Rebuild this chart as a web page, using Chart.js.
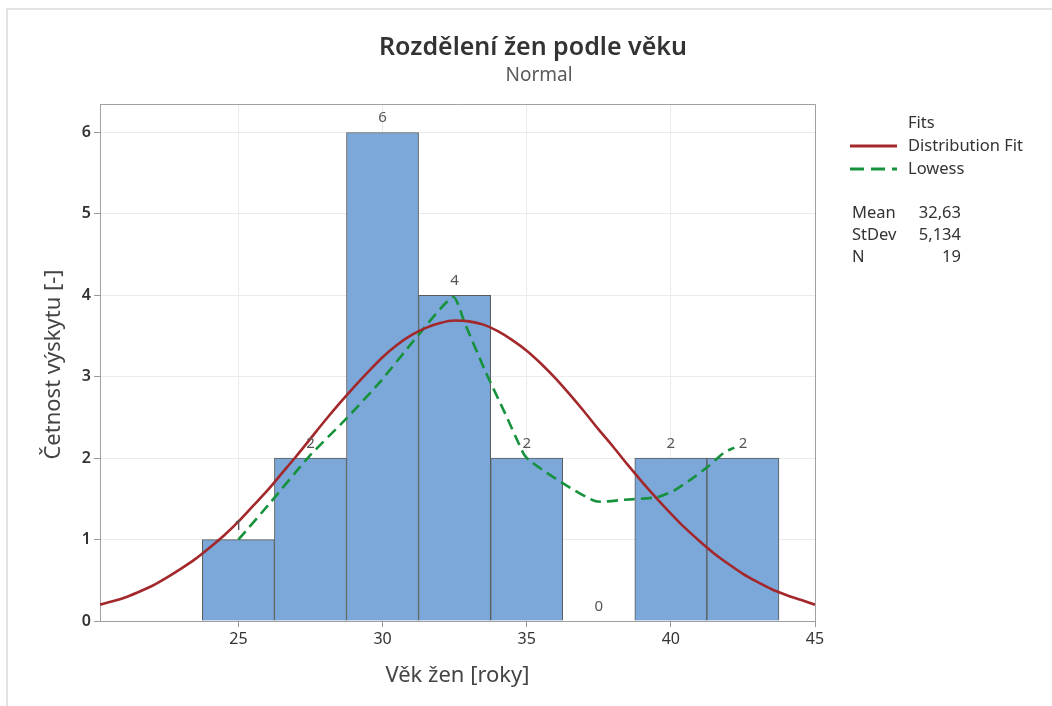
<!DOCTYPE html>
<html>
<head>
<meta charset="utf-8">
<script src="https://cdn.jsdelivr.net/npm/chart.js@4/dist/chart.umd.min.js"></script>
<style>
html,body{margin:0;padding:0;background:#fff;}
#wrap{position:relative;width:1052px;height:706px;}
canvas{display:block;}
</style>
</head>
<body>
<div id="wrap"><canvas id="c" width="1052" height="706"></canvas></div>
<script>
// ---- data ----
const binCenters = [25, 27.5, 30, 32.5, 35, 37.5, 40, 42.5];
const counts = [1, 2, 6, 4, 2, 0, 2, 2];

const fitX = [20.2, 20.5, 21, 21.5, 22, 22.5, 23, 23.5, 24, 24.5, 25, 25.5, 26, 26.5, 27, 27.5, 28, 28.5, 29, 29.5, 30, 30.5, 31, 31.5, 32, 32.5, 33, 33.5, 34, 34.5, 35, 35.5, 36, 36.5, 37, 37.5, 38, 38.5, 39, 39.5, 40, 40.5, 41, 41.5, 42, 42.5, 43, 43.5, 44, 44.5, 45];
const fitY = [0.20, 0.23, 0.28, 0.35, 0.43, 0.53, 0.64, 0.76, 0.90, 1.05, 1.22, 1.41, 1.60, 1.81, 2.02, 2.24, 2.46, 2.67, 2.87, 3.06, 3.24, 3.39, 3.51, 3.60, 3.66, 3.69, 3.68, 3.64, 3.56, 3.45, 3.32, 3.16, 2.98, 2.78, 2.57, 2.35, 2.14, 1.92, 1.71, 1.51, 1.32, 1.14, 0.98, 0.83, 0.70, 0.58, 0.48, 0.39, 0.32, 0.26, 0.20];

const lowessX = [25, 26.1, 27.45, 28.7, 29.9, 31.1, 32.45, 32.85, 33.55, 34.25, 34.9, 35.1, 35.7, 36.4, 37.4, 38.4, 39.5, 40.1, 40.7, 41.3, 41.85, 42.2];
const lowessY = [1.0, 1.45, 2.02, 2.47, 2.93, 3.45, 3.98, 3.66, 3.08, 2.55, 2.05, 1.97, 1.82, 1.66, 1.47, 1.49, 1.52, 1.60, 1.74, 1.90, 2.07, 2.13];

const xTicks = [25, 30, 35, 40, 45];
const yTicks = [0, 1, 2, 3, 4, 5, 6];

const titleText = 'Rozdělení žen podle věku';
const subtitleText = 'Normal';
const xTitle = 'Věk žen [roky]';
const yTitle = 'Četnost výskytu [-]';
const legendHeader = 'Fits';
const seriesNames = ['Distribution Fit', 'Lowess'];
const statLabels = ['Mean', 'StDev', 'N'];
const statValues = ['32,63', '5,134', '19'];

// ---- styles ----
const FONT = "'Noto Sans', 'Open Sans', sans-serif";
const RED = '#A3282B';
const GREEN = '#17923C';
const BAR = '#7BA7D9';

const decor = {
  id: 'decor',
  beforeDraw(chart) {
    const ctx = chart.ctx;
    ctx.save();
    ctx.fillStyle = '#e3e3e3';
    ctx.fillRect(6, 8, 2, 706);
    ctx.fillRect(6, 8, 1052, 2);
    ctx.restore();
  },
  afterDraw(chart) {
    const ctx = chart.ctx;
    const a = chart.chartArea;
    ctx.save();
    // frame top/right
    ctx.strokeStyle = '#a0a0a0';
    ctx.lineWidth = 1;
    ctx.beginPath();
    ctx.moveTo(a.left, a.top + 0.5);
    ctx.lineTo(a.right + 0.5, a.top + 0.5);
    ctx.lineTo(a.right + 0.5, a.bottom);
    ctx.stroke();

    // title
    ctx.fillStyle = '#333';
    ctx.textAlign = 'center';
    ctx.textBaseline = 'alphabetic';
    ctx.font = "600 25px " + FONT;
    ctx.fillText(titleText, 533, 55);
    ctx.fillStyle = '#5a5a5a';
    ctx.font = "19px " + FONT;
    ctx.fillText(subtitleText, 539, 81);

    // axis titles
    ctx.fillStyle = '#444';
    ctx.font = "22px " + FONT;
    ctx.textBaseline = 'middle';
    ctx.fillText(xTitle, (a.left + a.right) / 2, 676);
    ctx.save();
    ctx.translate(54, (a.top + a.bottom) / 2 + 2);
    ctx.rotate(-Math.PI / 2);
    ctx.fillText(yTitle, 0, 0);
    ctx.restore();

    // bar labels
    const meta = chart.getDatasetMeta(2);
    ctx.fillStyle = '#555';
    ctx.font = "15px " + FONT;
    ctx.textBaseline = 'alphabetic';
    meta.data.forEach((el, i) => {
      ctx.fillText(String(counts[i]), el.x, el.y - 10);
    });

    // legend
    ctx.textAlign = 'left';
    ctx.textBaseline = 'middle';
    ctx.fillStyle = '#333';
    ctx.font = "16.5px " + FONT;
    ctx.fillText(legendHeader, 908, 123);
    ctx.fillText(seriesNames[0], 908, 146);
    ctx.fillText(seriesNames[1], 908, 169);
    ctx.lineWidth = 3;
    ctx.strokeStyle = RED;
    ctx.beginPath(); ctx.moveTo(850, 146); ctx.lineTo(897, 146); ctx.stroke();
    ctx.strokeStyle = GREEN;
    ctx.setLineDash([14, 7]);
    ctx.beginPath(); ctx.moveTo(850, 169); ctx.lineTo(897, 169); ctx.stroke();
    ctx.setLineDash([]);

    // stats
    statLabels.forEach((s, i) => {
      ctx.textAlign = 'left';
      ctx.fillText(s, 852, 213 + i * 22);
      ctx.textAlign = 'right';
      ctx.fillText(statValues[i], 961, 213 + i * 22);
    });
    ctx.restore();
  }
};

new Chart(document.getElementById('c'), {
  type: 'bar',
  data: {
    datasets: [
      {
        type: 'line',
        label: seriesNames[0],
        data: fitX.map((x, i) => ({ x: x, y: fitY[i] })),
        borderColor: RED,
        borderWidth: 2.6,
        pointRadius: 0,
        cubicInterpolationMode: 'monotone',
        order: 0
      },
      {
        type: 'line',
        label: seriesNames[1],
        data: lowessX.map((x, i) => ({ x: x, y: lowessY[i] })),
        borderColor: GREEN,
        borderWidth: 2.6,
        borderDash: [11, 6],
        pointRadius: 0,
        tension: 0.2,
        order: 1
      },
      {
        type: 'bar',
        label: 'Histogram',
        data: binCenters.map((x, i) => ({ x: x, y: counts[i] })),
        backgroundColor: BAR,
        borderColor: '#5b5b5b',
        borderWidth: 1,
        borderSkipped: 'bottom',
        barPercentage: 1,
        categoryPercentage: 1,
        order: 2
      }
    ]
  },
  options: {
    responsive: false,
    animation: false,
    devicePixelRatio: 1,
    layout: { padding: { left: 0, top: 104, right: 237, bottom: 0 } },
    plugins: { legend: { display: false }, tooltip: { enabled: false }, title: { display: false } },
    scales: {
      x: {
        type: 'linear',
        offset: false,
        min: 20.2,
        max: 45,
        afterBuildTicks: s => { s.ticks = xTicks.map(v => ({ value: v })); },
        afterFit: s => { s.height = 85; },
        grid: { offset: false, color: '#ebebeb', tickColor: '#999', tickLength: 6, drawTicks: true },
        border: { display: true, color: '#a0a0a0' },
        ticks: { font: { family: FONT, size: 16 }, color: '#333', padding: 3, maxRotation: 0 }
      },
      y: {
        type: 'linear',
        min: 0,
        max: 6.35,
        afterBuildTicks: s => { s.ticks = yTicks.map(v => ({ value: v })); },
        afterFit: s => { s.width = 100; },
        grid: { color: '#ebebeb', tickColor: '#999', tickLength: 6, drawTicks: true },
        border: { display: true, color: '#a0a0a0' },
        ticks: { font: { family: FONT, size: 16, weight: '600' }, color: '#333', padding: 3 }
      }
    }
  },
  plugins: [decor]
});
</script>
</body>
</html>
